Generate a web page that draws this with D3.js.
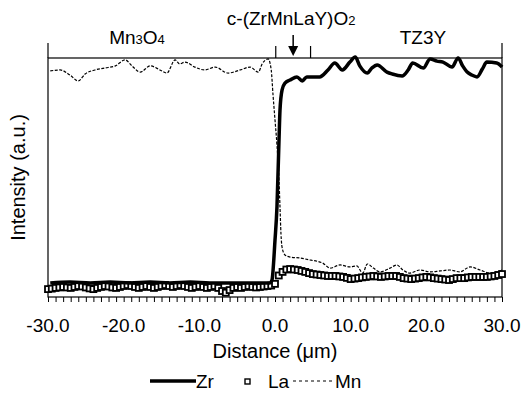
<!DOCTYPE html>
<html>
<head>
<meta charset="utf-8">
<script src="https://cdn.jsdelivr.net/npm/d3@7"></script>
<style>
  body { margin: 0; background: #fff; }
  text { font-family: "Liberation Sans", Arial, sans-serif; fill: #000; }
</style>
</head>
<body>
<div id="chart"></div>
<script>
// Zr profile (distance in µm, intensity in %)
const zrDist = [-29.7, -27.1, -24.4, -21.8, -19.2, -16.5, -13.9, -11.2, -8.6, -5.9, -3.3, -1.3, -0.66, -0.4,
  0.0, 0.26, 0.53, 0.66, 0.93, 1.32, 2.0, 2.9, 3.6, 4.2, 5.9, 7.0, 7.9, 8.9, 9.9, 10.6, 11.2, 12.2, 12.8,
  13.5, 14.8, 15.5, 16.8, 17.6, 18.2, 19.6, 20.5, 21.4, 22.2, 23.4, 24.2, 24.8, 25.4, 26.0, 26.7, 27.4,
  28.0, 29.3, 30.0];
const zrVal = [5.9, 6.3, 5.9, 6.3, 5.9, 6.3, 5.9, 6.3, 5.9, 5.9, 5.9, 5.9, 5.9, 7.1,
  23.8, 37.7, 65.7, 78.2, 86.6, 89.5, 90.8, 92.1, 90.4, 92.1, 92.1, 95.0, 97.9, 95.0, 98.3, 100.4, 96.7, 93.7, 95.8,
  97.1, 94.1, 93.3, 92.5, 95.0, 97.9, 95.8, 99.6, 98.7, 98.3, 96.2, 100.0, 96.7, 94.1, 92.9, 92.1, 95.4,
  98.3, 97.9, 96.2];

// Mn profile
const mnDist = [-29.7, -28.4, -27.1, -26.0, -25.1, -23.8, -22.5, -21.1, -19.8, -18.9, -17.8, -16.5, -15.2,
  -14.3, -13.2, -12.6, -11.9, -10.6, -9.3, -7.9, -6.2, -4.6, -3.3, -2.2, -1.7, -0.9, -0.5, -0.26, 0.0,
  0.26, 0.53, 0.66, 0.79, 0.93, 1.32, 2.0, 3.3, 4.6, 6.3, 7.3, 8.6, 9.9, 10.8, 11.6, 12.2, 13.0, 13.9,
  15.2, 16.1, 16.9, 17.8, 19.2, 20.5, 21.8, 23.1, 24.4, 25.8, 27.1, 28.4, 29.3, 30.0];
const mnVal = [94.6, 95.0, 92.9, 90.4, 93.3, 95.0, 95.8, 96.7, 99.2, 96.7, 94.1, 96.7, 95.0,
  93.7, 99.2, 97.5, 98.3, 96.2, 95.0, 96.2, 93.7, 95.0, 96.2, 94.1, 97.5, 99.6, 95.0, 84.5, 74.1,
  63.6, 48.9, 37.7, 26.4, 20.9, 17.6, 16.7, 16.3, 15.5, 14.2, 12.1, 13.4, 12.6, 13.0, 10.0, 13.8, 12.1, 10.5,
  12.1, 13.4, 11.3, 10.0, 11.3, 10.5, 10.9, 11.3, 10.5, 12.6, 11.3, 10.0, 10.5, 11.3];

// La profile, one reading every 0.5 µm from -30 to 30
const laDist = d3.range(-30, 30.001, 0.5);
const laVal = [3.3, 3.5, 3.8, 4.0, 4.2, 4.0, 3.8, 4.2, 4.6, 4.4, 4.0, 3.6, 3.3, 3.8, 4.2, 4.6, 4.4, 4.0, 3.8, 4.2,
  4.6, 5.0, 4.6, 4.2, 3.8, 4.2, 4.6, 4.2, 3.8, 4.2, 4.6, 5.0, 4.6, 4.2, 4.6, 5.0, 4.6, 4.2, 3.8, 4.2,
  4.6, 4.2, 3.8, 4.2, 4.6, 3.8, 2.5, 1.8, 2.9, 3.8, 4.2, 3.8, 4.2, 4.6, 4.2, 4.0, 4.2, 4.4, 4.6, 4.8,
  5.5, 9.0, 10.5, 11.5, 11.7, 11.5, 11.3, 10.9, 10.5, 10.0, 9.6, 9.4, 9.2, 9.0, 8.8, 8.8, 8.8, 8.6, 8.4, 8.0,
  7.5, 7.7, 7.9, 8.2, 8.4, 8.6, 8.8, 8.6, 8.4, 8.6, 8.8, 8.8, 8.8, 8.4, 7.9, 7.7, 7.5, 7.7, 7.9, 8.2,
  8.4, 8.2, 7.9, 7.7, 7.5, 7.3, 7.1, 7.5, 7.9, 7.9, 7.9, 8.2, 8.4, 8.4, 8.4, 8.4, 8.4, 8.6, 8.8, 9.2, 9.6];

const xTicks = [-30, -20, -10, 0, 10, 20, 30];

// zones above the plot
const zoneEdges = [-30, 0.1, 4.7, 30];
const zoneArrow = 2.4;

const width = 528, height = 401;
const svg = d3.select('#chart').append('svg')
  .attr('width', width).attr('height', height);

const x = d3.scaleLinear().domain([-30, 30]).range([48, 502]);
const y = d3.scaleLinear().domain([0, 100]).range([297, 58]);

// frame
svg.append('rect')
  .attr('x', x(-30)).attr('y', y(100))
  .attr('width', x(30) - x(-30)).attr('height', y(0) - y(100))
  .attr('fill', 'none').attr('stroke', '#000').attr('stroke-width', 1.2);

// zone dividers above the box
zoneEdges.forEach(d => {
  const top = (d === -30 || d === 30) ? 43 : 46;
  svg.append('line')
    .attr('x1', x(d)).attr('x2', x(d))
    .attr('y1', top).attr('y2', y(100))
    .attr('stroke', '#000').attr('stroke-width', 1.2);
});

// zone labels
function subLabel(cx, cy, parts) {
  const t = svg.append('text').attr('x', cx).attr('y', cy)
    .attr('text-anchor', 'middle').style('font-size', '19px');
  parts.forEach(p => {
    t.append('tspan').text(p[0]).style('font-size', p[1] ? '13px' : '19px');
  });
}
subLabel(137, 44, [['Mn', 0], ['3', 1], ['O', 0], ['4', 1]]);
subLabel(423, 44, [['TZ3Y', 0]]);
subLabel(x(zoneArrow) - 2, 25, [['c-(ZrMnLaY)O', 0], ['2', 1]]);

// arrow
const ax = x(zoneArrow);
svg.append('line').attr('x1', ax).attr('x2', ax).attr('y1', 35).attr('y2', 47)
  .attr('stroke', '#000').attr('stroke-width', 1.5);
svg.append('path')
  .attr('d', `M${ax - 5},46 L${ax + 5},46 L${ax},56 Z`)
  .attr('fill', '#000');

// x axis ticks
const xAxis = d3.axisBottom(x)
  .tickValues(d3.range(-30, 30.001, 1))
  .tickSize(5)
  .tickFormat('');
const gx = svg.append('g').attr('transform', `translate(0,${y(0)})`).call(xAxis);
gx.select('.domain').remove();
gx.selectAll('line').attr('stroke', '#000').attr('stroke-width', 1);

svg.append('g').selectAll('text').data(xTicks).join('text')
  .attr('x', d => x(d)).attr('y', 332)
  .attr('text-anchor', 'middle').style('font-size', '19px')
  .text(d => d.toFixed(1));

svg.append('text').attr('x', x(0)).attr('y', 358)
  .attr('text-anchor', 'middle').style('font-size', '20px')
  .text('Distance (μm)');

svg.append('text')
  .attr('transform', `translate(25,${(y(0) + y(100)) / 2}) rotate(-90)`)
  .attr('text-anchor', 'middle').style('font-size', '20px')
  .text('Intensity (a.u.)');

const line = d3.line()
  .x(d => x(d[0])).y(d => y(d[1]))
  .curve(d3.curveMonotoneX);

// La squares
const la = d3.zip(laDist, laVal);
svg.append('g').selectAll('rect').data(la).join('rect')
  .attr('x', d => x(d[0]) - 3).attr('y', d => y(d[1]) - 3)
  .attr('width', 6).attr('height', 6)
  .attr('fill', '#fff').attr('stroke', '#000').attr('stroke-width', 1.8);

// Mn thin dashed
svg.append('path').datum(d3.zip(mnDist, mnVal))
  .attr('d', line).attr('fill', 'none')
  .attr('stroke', '#000').attr('stroke-width', 1.2)
  .attr('stroke-dasharray', '3,1.5');

// Zr thick
svg.append('path').datum(d3.zip(zrDist, zrVal))
  .attr('d', line).attr('fill', 'none')
  .attr('stroke', '#000').attr('stroke-width', 3.5)
  .attr('stroke-linejoin', 'round');

// legend
const ly = 381;
const leg = svg.append('g');
leg.append('line').attr('x1', 150).attr('x2', 196).attr('y1', ly).attr('y2', ly)
  .attr('stroke', '#000').attr('stroke-width', 3.5);
leg.append('text').attr('x', 196).attr('y', ly + 7).style('font-size', '19px').text('Zr');
leg.append('rect').attr('x', 245).attr('y', ly - 2).attr('width', 5).attr('height', 5)
  .attr('fill', '#fff').attr('stroke', '#000').attr('stroke-width', 1.4);
leg.append('text').attr('x', 268).attr('y', ly + 7).style('font-size', '19px').text('La');
leg.append('line').attr('x1', 293).attr('x2', 332).attr('y1', ly).attr('y2', ly)
  .attr('stroke', '#000').attr('stroke-width', 1.2).attr('stroke-dasharray', '3,3');
leg.append('text').attr('x', 335).attr('y', ly + 7).style('font-size', '19px').text('Mn');
</script>
</body>
</html>
